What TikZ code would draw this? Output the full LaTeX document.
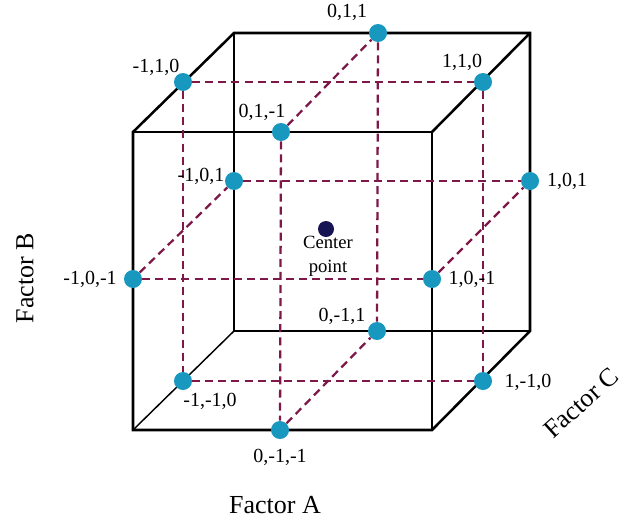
\documentclass[tikz,border=0pt]{standalone}
\usepackage{fontspec}
\setmainfont{Liberation Serif}
\definecolor{dotblue}{RGB}{24,152,190}
\definecolor{ctrnavy}{RGB}{22,20,82}
\definecolor{gridred}{RGB}{125,25,72}
\tikzset{
  rimthick/.style={line width=1.9pt},
  rimthin/.style={line width=1.1pt},
  dashline/.style={gridred, line width=1.7pt, dash pattern=on 6pt off 3.8pt},
  pt/.style={circle, fill=dotblue, inner sep=0pt, minimum size=13.5pt},
  lbl/.style={font=\fontsize{15}{17}\selectfont, inner sep=0pt},
  factorlbl/.style={font=\fontsize{19.5}{22}\selectfont, inner sep=0pt}
}
\begin{document}
\begin{tikzpicture}[x=0.75pt, y=-0.75pt]
    \useasboundingbox (0,0) rectangle (624,521);

    % Cube corners (front face, back face)
    \coordinate (ftl) at (133,132);
    \coordinate (ftr) at (432,132);
    \coordinate (fbl) at (133,430);
    \coordinate (fbr) at (432,430);
    \coordinate (btl) at (234,33);
    \coordinate (btr) at (530,33);
    \coordinate (bbl) at (234,331);
    \coordinate (bbr) at (530,331);

    % Inner edges
    \draw[rimthin] (ftl) -- (ftr) -- (fbr);
    \draw[rimthin] (btl) -- (bbl) -- (bbr);
    \draw[rimthin] (fbl) -- (bbl);

    % Outline
    \draw[rimthick, line join=miter] (fbl) -- (ftl) -- (btl) -- (btr) -- (bbr) -- (fbr) -- cycle;
    \draw[rimthick] (ftr) -- (btr);

    % Design points
    \node[pt] (n011) at (378,33) {};
    \node[pt] (nm110) at (183,82) {};
    \node[pt] (n110) at (483,82) {};
    \node[pt] (n01m1) at (281,132) {};
    \node[pt] (nm101) at (234,181) {};
    \node[pt] (n101) at (530,181) {};
    \node[pt] (nm10m1) at (133,279) {};
    \node[pt] (n10m1) at (432,279) {};
    \node[pt] (n0m11) at (377,331) {};
    \node[pt] (nm1m10) at (183,381) {};
    \node[pt] (n1m10) at (483,381) {};
    \node[pt] (n0m1m1) at (280,430) {};
    \node[circle, fill=ctrnavy, inner sep=0pt, minimum size=12pt] (ctr) at (326,229) {};

    % Dashed grid
    \draw[dashline] (nm110) -- (n110);
    \draw[dashline] (nm101) -- (n101);
    \draw[dashline] (nm10m1) -- (n10m1);
    \draw[dashline] (nm1m10) -- (n1m10);
    \draw[dashline] (nm110) -- (nm1m10);
    \draw[dashline] (n01m1) -- (n0m1m1);
    \draw[dashline] (n011) -- (n0m11);
    \draw[dashline] (n110) -- (n1m10);
    \draw[dashline] (n01m1) -- (n011);
    \draw[dashline] (nm10m1) -- (nm101);
    \draw[dashline] (n10m1) -- (n101);
    \draw[dashline] (n0m1m1) -- (n0m11);

    % Point labels
    \node[lbl] (t011) at (347,12) {0,1,1};
    \node[lbl] (tm110) at (156,67) {-1,1,0};
    \node[lbl] (t110) at (462,62) {1,1,0};
    \node[lbl] (t01m1) at (262,112) {0,1,-1};
    \node[lbl] (tm101) at (201,176) {-1,0,1};
    \node[lbl] (t101) at (567,181) {1,0,1};
    \node[lbl] (tm10m1) at (90,279) {-1,0,-1};
    \node[lbl] (t10m1) at (472,279) {1,0,-1};
    \node[lbl] (t0m11) at (342,316) {0,-1,1};
    \node[lbl] (tm1m10) at (210,401) {-1,-1,0};
    \node[lbl] (t0m1m1) at (280,457) {0,-1,-1};
    \node[lbl] (t1m10) at (528,382) {1,-1,0};
    \node[font=\fontsize{14}{18}\selectfont, align=center, inner sep=0pt] (tctr) at (328,256) {Center\\point};

    % Factor labels
    \node[factorlbl] (fa) at (275,505) {Factor A};
    \node[factorlbl, rotate=90] (fb) at (25,278) {Factor B};
    \node[factorlbl, rotate=42] (fc) at (581,403) {Factor C};
\end{tikzpicture}
\end{document}
